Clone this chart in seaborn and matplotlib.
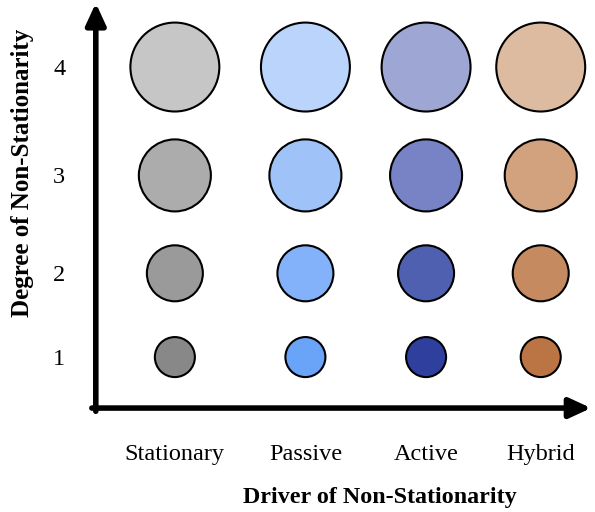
import numpy as np
import pandas as pd
import matplotlib
matplotlib.use("Agg")
import matplotlib.pyplot as plt
import seaborn as sns

# ---------- data ----------
drivers = ["Stationary", "Passive", "Active", "Hybrid"]
degrees = [1, 2, 3, 4]

# colour of each bubble, per driver, from degree 1 up to degree 4
stationary_colors = ["#888888", "#9a9a9a", "#acacac", "#c6c6c6"]
passive_colors = ["#6aa4f9", "#84b2fa", "#9fc3f9", "#bad4fb"]
active_colors = ["#2f3f9e", "#5060b0", "#7783c4", "#9ea7d3"]
hybrid_colors = ["#bb7443", "#c68a60", "#d2a27f", "#dcbba0"]
driver_colors = [stationary_colors, passive_colors, active_colors, hybrid_colors]

rows = []
for i, drv in enumerate(drivers):
    for j, deg in enumerate(degrees):
        rows.append({"driver": i, "degree": deg, "cell": f"{drv}-{deg}",
                     "color": driver_colors[i][j]})
df = pd.DataFrame(rows)
palette = dict(zip(df["cell"], df["color"]))

# ---------- plot ----------
sns.set_style("white")
plt.rcParams["font.family"] = ["Liberation Serif", "DejaVu Serif"]
plt.rcParams["text.color"] = "black"
plt.rcParams["axes.labelcolor"] = "black"
plt.rcParams["xtick.color"] = "black"
plt.rcParams["ytick.color"] = "black"

fig = plt.figure(figsize=(5.95, 5.12), dpi=100)
ax = fig.add_axes([0.161, 0.203, 0.830, 0.787])

# slightly uneven spacing like the original drawing
ax.set_xscale("function", functions=(lambda v: np.power(np.clip(v + 1, 1e-6, None), 0.85),
                                     lambda v: np.power(np.clip(v, 1e-6, None), 1 / 0.85) - 1))
ax.set_yscale("function", functions=(lambda v: np.power(np.clip(v, 1e-6, None), 1.3),
                                     lambda v: np.power(np.clip(v, 1e-6, None), 1 / 1.3)))

sns.scatterplot(data=df, x="driver", y="degree", hue="cell", palette=palette,
                size="degree", sizes={1: 830, 2: 1625, 3: 2690, 4: 4100},
                edgecolor="black", linewidth=1.5, legend=False, ax=ax,
                clip_on=False, zorder=3)

ax.set_xlim(-0.543, 3.439)
ax.set_ylim(0.183, 4.538)

for s in ax.spines.values():
    s.set_visible(False)

# arrow axes
arrow = dict(arrowstyle="-|>,head_width=0.6,head_length=1.3", lw=4,
             color="black", shrinkA=0, shrinkB=0)
ax.annotate("", xy=(1.003, 0.0), xytext=(-0.008, 0.0), xycoords="axes fraction",
            arrowprops=arrow, annotation_clip=False)
ax.annotate("", xy=(0.0, 1.005), xytext=(0.0, -0.008), xycoords="axes fraction",
            arrowprops=arrow, annotation_clip=False)

ax.set_xticks(range(len(drivers)))
ax.set_xticklabels(drivers, fontsize=17.5)
ax.set_yticks(degrees)
ax.set_yticklabels([str(d) for d in degrees], fontsize=17.5)
ax.minorticks_off()
ax.tick_params(axis="both", length=0)
ax.tick_params(axis="x", pad=26)
ax.tick_params(axis="y", pad=22)

ax.set_xlabel("Driver of Non-Stationarity", fontsize=17.3, fontweight="bold")
ax.set_ylabel("Degree of Non-Stationarity", fontsize=18, fontweight="bold")
ax.xaxis.set_label_coords(0.575, -0.197)
ax.yaxis.set_label_coords(-0.125, 0.583)

fig.savefig("out.png", dpi=100)
